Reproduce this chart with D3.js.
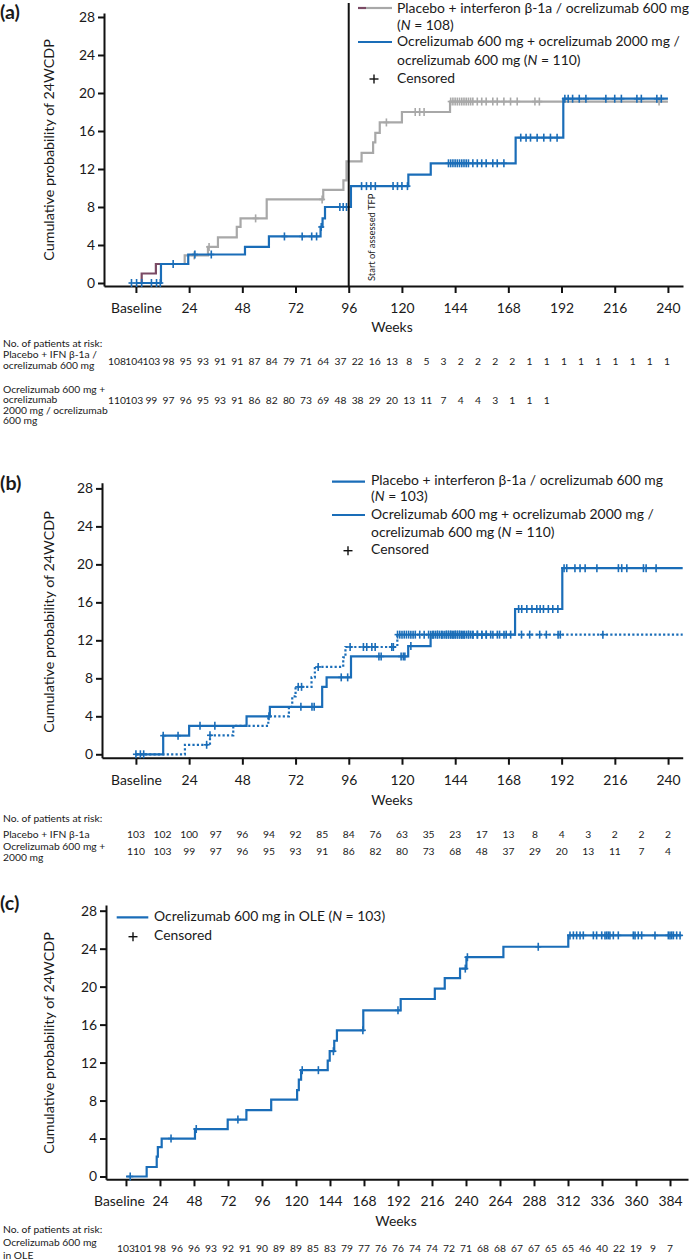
<!DOCTYPE html>
<html><head><meta charset="utf-8">
<script src="https://cdn.jsdelivr.net/npm/d3@7"></script>
<style>
body{margin:0;background:#fff}
svg{display:block}
text{font-family:Lato,'Open Sans',sans-serif;fill:#1a1a1a}
</style>
</head><body>
<svg id="chart" width="692" height="1260"></svg>
<script>
// ---------------- DATA ----------------
const weekTicksAB = [0,24,48,72,96,120,144,168,192,216,240];
const weekTicksC = [0,24,48,72,96,120,144,168,192,216,240,264,288,312,336,360,384];
const probTicks = [0,4,8,12,16,20,24,28];

// Panel (a)
const aPurpleT = [0, 2.6, 9];
const aPurpleV = [0, 1, 2];
const aPurpleEnd = 24;
const aGrayT = [21, 22, 32.5, 37, 45.5, 47.2, 59, 84.5, 93.6, 95, 101.8, 107, 108, 110, 120, 141.7];
const aGrayV = [2, 2.9, 3.8, 4.8, 5.9, 6.8, 8.8, 9.8, 10.8, 12.8, 13.7, 14.8, 15.8, 16.9, 18.0, 19.1];
const aGrayEnd = 240;
const aGrayCens = [26.3, 33, 54, 84, 113, 126, 128, 130, 142, 143, 144, 145, 146, 147, 148, 149, 150, 151, 152, 154, 156, 158, 161, 163, 166, 169, 172, 180, 182, 236];
const aBlueT = [0, 11.3, 23.6, 49.2, 60, 83.3, 84.2, 85.3, 97, 122.9, 133, 171.3, 192.8];
const aBlueV = [0, 2.0, 3.0, 3.8, 4.9, 5.9, 6.8, 8.0, 10.2, 11.4, 12.6, 15.3, 19.4];
const aBlueEnd = 240;
const aBlueCens = [-2, 0.3, 2.6, 7, 9.3, 11, 16.8, 26.6, 34, 67, 75, 79.3, 81.5, 83.6, 92, 93.5, 95, 101.8, 104, 106, 108, 116, 118, 120, 122.5,
  141, 142, 143, 144, 145, 146, 147, 148, 149, 150, 152, 154, 156, 158, 161, 163, 166,
  173.6, 176, 178, 181, 184, 187, 190, 193.5, 195, 197, 200, 203, 212, 216, 219, 226, 228, 235, 237];
const aVLineWeek = 96;
const aRiskPlacebo = [108,104,103,98,95,93,91,91,87,84,79,71,64,37,22,16,13,8,5,3,2,2,2,2,1,1,1,1,1,1,1,1,1];
const aRiskOcr = [110,103,99,97,96,95,93,91,86,82,80,73,69,48,38,29,20,13,11,7,4,4,3,1,1,1];

// Panel (b)
const bSolidT = [0, 12.3, 24, 49.9, 60.4, 84, 86, 97, 122.8, 132.9, 171, 192.3];
const bSolidV = [0, 1.96, 3.0, 4.0, 5.0, 7.1, 8.1, 10.3, 11.4, 12.6, 15.3, 19.6];
const bSolidEnd = 246.6;
const bSolidCens = [0, 2, 3.5, 12.3, 19, 28.9, 35.6, 74.4, 79.4, 80.4, 92.6, 95.5, 109.6, 110.6, 119.6, 120.6, 121.3, 124,
  133, 134, 135, 136, 137, 138, 139, 140, 141, 142, 143, 144, 145, 146, 147, 148, 149, 150, 151, 152, 154, 156, 158, 161, 164, 167,
  172.6, 174, 176.3, 178.6, 180.8, 182.3, 183.8, 186, 188, 190.3, 193.1, 194.3, 198, 200.3, 202.6, 207.9, 217.6, 219.1, 221.4, 228.9, 230.1, 234.6];
const bDotT = [0, 22.1, 33.4, 43.9, 59.7, 69, 70.5, 72, 79.2, 80.7, 93.5, 94.5, 117.9];
const bDotV = [0, 1.0, 2.0, 3.0, 4.0, 5.0, 6.1, 7.1, 8.1, 9.2, 10.2, 11.3, 12.6];
const bDotEnd = 246.6;
const bDotCens = [31.9, 33.4, 60, 73.2, 74.7, 82.2, 96.6, 102.6, 104.1, 106.4, 107.9, 115.4, 116.1,
  118, 119, 120, 121, 122, 123, 124, 125, 126, 128, 130, 132, 134, 136, 138, 140, 141, 142, 143, 144, 145, 146, 147, 148, 150, 152, 154, 156, 158, 160, 163, 166, 169,
  173.9, 177.6, 182.1, 185.1, 190.4, 191.4, 210.6];
const bRiskPlacebo = [103,102,100,97,96,94,92,85,84,76,63,35,23,17,13,8,4,3,2,2,2];
const bRiskOcr = [110,103,99,97,96,95,93,91,86,82,80,73,68,48,37,29,20,13,11,7,4];

// Panel (c)
const cT = [0, 14.6, 21.7, 22.5, 25.2, 48.7, 71.8, 85, 102.5, 120.8, 122, 123.6, 142.4, 143.8, 147, 148.9, 167.5, 193.9, 218, 225, 235.8, 240.3, 266.4, 312.2];
const cV = [0, 1.0, 2.1, 3.1, 4.0, 5.0, 6.0, 7.0, 8.1, 9.1, 10.2, 11.2, 12.2, 13.2, 14.3, 15.4, 17.5, 18.7, 19.8, 20.9, 21.9, 23.1, 24.2, 25.4];
const cEnd = 392;
const cCens = [3, 31.8, 49.6, 79, 124.4, 135.8, 146.4, 167.2, 192, 239.5, 241, 291,
  313.4, 315.8, 318.1, 320.5, 322.8, 329.9, 332.2, 335.8, 338.1, 339.3, 340.5, 341.6, 344, 347.5, 358.1, 359.3, 361.6, 364, 373.4, 382.8, 384, 385.2, 386.4, 388.7, 391.1];
const cRisk = [103,101,98,96,96,93,92,91,90,89,89,85,83,79,77,76,76,74,74,72,71,68,68,67,67,65,65,46,40,22,19,9,7];

// ---------------- DRAW ----------------
const BLUE = '#1a6db8', GRAY = '#a8a8a8', PURPLE = '#7a4a64';
const svg = d3.select('#chart');

// size fonts so that reference strings reach the widths measured on the reference
function fit(str, width, weight){
  const t = svg.append('text').attr('font-size', 20).attr('font-weight', weight || 'normal').text(str);
  const w = t.node().getComputedTextLength(); t.remove();
  return Math.round(20 * width / w * 10) / 10;
}
const LEG = fit('Placebo + interferon β-1a / ocrelizumab 600 mg', 292);
const TICK = fit('Baseline', 51);
const YLAB = fit('Cumulative probability of 24WCDP', 222);
const TAB = fit('No. of patients at risk:', 99);
const VTXT = fit('Start of assessed TFP', 88);
const PAN = fit('(a)', 20, 'bold');

function pts(t, v, end){ const p = t.map((d,i)=>[d, v[i]]); p.push([end, v[v.length-1]]); return p; }
function valAt(t, v, c){ let r = v[0]; for (let i=0;i<t.length;i++) if (t[i] <= c) r = v[i]; return r; }

function makePanel(o){
  const g = svg.append('g');
  const x = d3.scaleLinear().domain(o.xDom).range(o.xRange);
  const y = d3.scaleLinear().domain(o.yDom).range(o.yRange);
  const xa = g.append('g').attr('transform', `translate(0,${o.yRange[0]})`)
    .call(d3.axisBottom(x).tickValues(o.xTicks).tickFormat(d => d === 0 ? 'Baseline' : d).tickSize(7).tickSizeOuter(0).tickPadding(10));
  const ya = g.append('g').attr('transform', `translate(${o.xRange[0]},0)`)
    .call(d3.axisLeft(y).tickValues(probTicks).tickSize(6).tickSizeOuter(0).tickPadding(3));
  [xa, ya].forEach(a => {
    a.selectAll('path,line').attr('stroke', '#111').attr('stroke-width', 2);
    a.selectAll('text').attr('font-size', TICK).attr('font-family', 'Lato').attr('fill', '#1a1a1a');
  });
  if (o.baseDx) xa.selectAll('.tick text').filter(d => d === 0).attr('dx', o.baseDx);
  return {g, x, y};
}

function stepLine(P, t, v, end, color, dash){
  const line = d3.line().x(d => P.x(d[0])).y(d => P.y(d[1])).curve(d3.curveStepAfter);
  P.g.append('path').datum(pts(t, v, end)).attr('d', line).attr('fill', 'none')
    .attr('stroke', color).attr('stroke-width', 2.2).attr('stroke-dasharray', dash || null);
}
function censors(P, t, v, cens, color){
  const gg = P.g.append('g').attr('stroke', color).attr('stroke-width', 1.6);
  cens.forEach(c => {
    const cx = P.x(c), cy = P.y(valAt(t, v, c));
    gg.append('line').attr('x1', cx).attr('x2', cx).attr('y1', cy - 4).attr('y2', cy + 4);
    gg.append('line').attr('x1', cx - 3).attr('x2', cx + 3).attr('y1', cy).attr('y2', cy);
  });
}
function txt(x, y, s, size, opts){
  opts = opts || {};
  const t = svg.append('text').attr('x', x).attr('y', y).attr('font-size', size)
    .attr('dominant-baseline', 'middle').attr('text-anchor', opts.anchor || 'start');
  if (opts.bold) t.attr('font-weight', 'bold');
  if (opts.rotate) t.attr('transform', `rotate(-90,${x},${y})`);
  return t.text(s);
}
function nText(x, y, pre, post, size){
  const t = svg.append('text').attr('x', x).attr('y', y).attr('font-size', size).attr('dominant-baseline', 'middle');
  t.append('tspan').text(pre);
  t.append('tspan').attr('font-style', 'italic').text('N');
  t.append('tspan').text(post);
}
function legendLine(x1, x2, y, color){
  svg.append('line').attr('x1', x1).attr('x2', x2).attr('y1', y).attr('y2', y).attr('stroke', color).attr('stroke-width', 2.2);
}
function legendPlus(x, y){
  svg.append('line').attr('x1', x).attr('x2', x).attr('y1', y-4.5).attr('y2', y+4.5).attr('stroke', '#111').attr('stroke-width', 1.4);
  svg.append('line').attr('x1', x-4.5).attr('x2', x+4.5).attr('y1', y).attr('y2', y).attr('stroke', '#111').attr('stroke-width', 1.4);
}
function riskRow(vals, xs, y){
  vals.forEach((v, i) => txt(xs(i), y, v, TAB, {anchor: 'middle'}));
}

// ----- Panel (a)
const A = makePanel({xDom: [-14.4, 246.8], xRange: [104, 683], yDom: [-0.316, 28.42], yRange: [286, 13], xTicks: weekTicksAB});
stepLine(A, aGrayT, aGrayV, aGrayEnd, GRAY);
censors(A, aGrayT, aGrayV, aGrayCens, GRAY);
stepLine(A, aPurpleT, aPurpleV, aPurpleEnd, PURPLE);
stepLine(A, aBlueT, aBlueV, aBlueEnd, BLUE);
censors(A, aBlueT, aBlueV, aBlueCens, BLUE);
A.g.append('line').attr('x1', A.x(aVLineWeek)).attr('x2', A.x(aVLineWeek)).attr('y1', 3).attr('y2', 286)
  .attr('stroke', '#111').attr('stroke-width', 2);
txt(A.x(aVLineWeek) + 24, 281, 'Start of assessed TFP', VTXT, {rotate: true});
txt(0, 14, '(a)', PAN, {bold: true});
txt(50, 150, 'Cumulative probability of 24WCDP', YLAB, {anchor: 'middle', rotate: true});
txt(392, 328, 'Weeks', TICK, {anchor: 'middle'});
legendLine(358, 366, 8, PURPLE); legendLine(366, 392, 8, GRAY);
txt(397, 9, 'Placebo + interferon β-1a / ocrelizumab 600 mg', LEG);
nText(397, 26, '(', ' = 108)', LEG);
legendLine(358, 392, 42, BLUE);
txt(397, 42.5, 'Ocrelizumab 600 mg + ocrelizumab 2000 mg /', LEG);
nText(397, 61, 'ocrelizumab 600 mg  (', ' = 110)', LEG);
legendPlus(374, 79); txt(397, 79, 'Censored', LEG);
txt(3, 344, 'No. of patients at risk:', TAB);
txt(3, 355.5, 'Placebo + IFN β-1a /', TAB);
txt(3, 366.5, 'ocrelizumab 600 mg', TAB);
txt(3, 390, 'Ocrelizumab 600 mg +', TAB);
txt(3, 400.7, 'ocrelizumab', TAB);
txt(3, 411, '2000 mg / ocrelizumab', TAB);
txt(3, 421.5, '600 mg', TAB);
const aRiskX = d3.scaleLinear().domain([0, aRiskPlacebo.length - 1]).range([117, 667]);
riskRow(aRiskPlacebo, aRiskX, 362);
riskRow(aRiskOcr, aRiskX, 401);

// ----- Panel (b)
const B = makePanel({xDom: [-15.3, 246.6], xRange: [102, 682.7], yDom: [-0.36, 28.6], yRange: [757.7, 482.7], xTicks: weekTicksAB});
stepLine(B, bDotT, bDotV, bDotEnd, BLUE, '2.2,2.2');
censors(B, bDotT, bDotV, bDotCens, BLUE);
stepLine(B, bSolidT, bSolidV, bSolidEnd, BLUE);
censors(B, bSolidT, bSolidV, bSolidCens, BLUE);
txt(0, 485, '(b)', PAN, {bold: true});
txt(50, 622, 'Cumulative probability of 24WCDP', YLAB, {anchor: 'middle', rotate: true});
txt(392, 801, 'Weeks', TICK, {anchor: 'middle'});
legendLine(332, 365, 481.7, BLUE);
txt(371, 481.7, 'Placebo + interferon β-1a / ocrelizumab 600 mg', LEG);
nText(371, 497.3, '(', ' = 103)', LEG);
legendLine(332, 365, 515, BLUE);
txt(371, 515, 'Ocrelizumab 600 mg + ocrelizumab 2000 mg /', LEG);
nText(371, 533.3, 'ocrelizumab 600 mg (', ' = 110)', LEG);
legendPlus(348, 550.7); txt(371, 550.7, 'Censored', LEG);
txt(3, 819, 'No. of patients at risk:', TAB);
txt(3, 835, 'Placebo + IFN β-1a', TAB);
txt(3, 847, 'Ocrelizumab 600 mg +', TAB);
txt(3, 858, '2000 mg', TAB);
const bRiskX = i => B.x(i * 12);
riskRow(bRiskPlacebo, bRiskX, 835);
riskRow(bRiskOcr, bRiskX, 852);

// ----- Panel (c)
const C = makePanel({xDom: [-14.1, 396.7], xRange: [106, 688], yDom: [-0.295, 28.6], yRange: [1179.3, 905], xTicks: weekTicksC, baseDx: -7});
stepLine(C, cT, cV, cEnd, BLUE);
censors(C, cT, cV, cCens, BLUE);
txt(0, 905, '(c)', PAN, {bold: true});
txt(50, 1043, 'Cumulative probability of 24WCDP', YLAB, {anchor: 'middle', rotate: true});
txt(396, 1222, 'Weeks', TICK, {anchor: 'middle'});
legendLine(116.7, 148.3, 917.3, BLUE);
nText(154, 917.3, 'Ocrelizumab 600 mg in OLE (', ' = 103)', LEG);
legendPlus(133, 936.7); txt(154, 936.7, 'Censored', LEG);
txt(3, 1230, 'No. of patients at risk:', TAB);
txt(3, 1243, 'Ocrelizumab 600 mg', TAB);
txt(3, 1256, 'in OLE', TAB);
const cRiskX = i => C.x(i * 12);
riskRow(cRisk, cRiskX, 1249);
</script>
</body></html>
